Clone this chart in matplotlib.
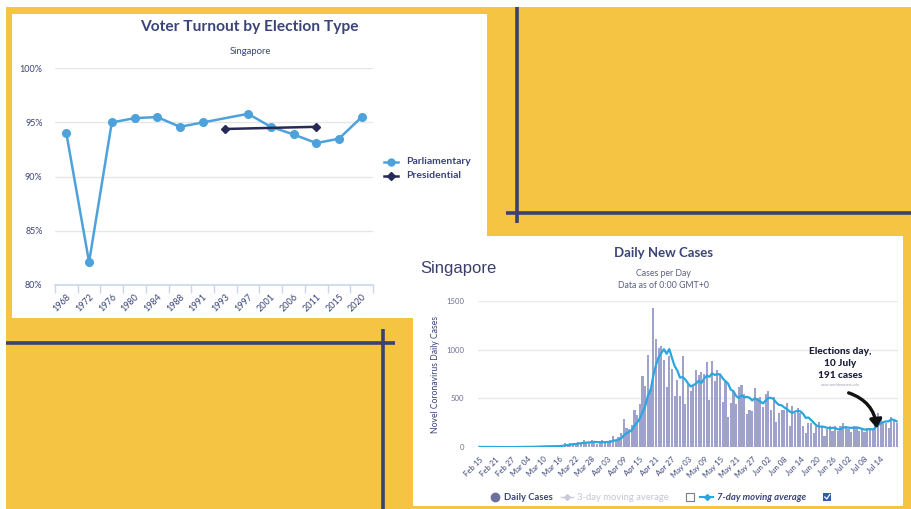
import matplotlib
matplotlib.use('Agg')
import matplotlib.pyplot as plt
import numpy as np
from matplotlib.patches import Rectangle, FancyArrowPatch
from matplotlib.lines import Line2D

W, H = 911, 509
DPI = 100

# ---------------- data: voter turnout ----------------
years = ['1968', '1972', '1976', '1980', '1984', '1988', '1991', '1993',
         '1997', '2001', '2006', '2011', '2015', '2020']
parliamentary = [94.0, 82.1, 95.0, 95.4, 95.5, 94.6, 95.0, None,
                 95.8, 94.6, 93.9, 93.1, 93.5, 95.5]
presidential = [None, None, None, None, None, None, None, 94.4,
                None, None, None, 94.6, None, None]
turnout_ticks = [80, 85, 90, 95, 100]
turnout_labels = ['80%', '85%', '90%', '95%', '100%']

# ---------------- data: daily new cases (Feb 15 - Jul 20) ----------------
daily_cases = [5, 3, 2, 4, 3, 1, 1, 3, 3, 1, 1, 2, 3, 3, 4,
               4, 2, 2, 2, 7, 13, 8, 12, 10, 6, 12, 9, 13, 12, 14, 17, 23, 47, 32, 40, 47, 23, 54, 49, 73, 52, 49, 70, 42, 35, 47,
               74, 49, 65, 75, 120, 66, 106, 142, 287, 198, 191, 233, 386, 334, 447, 728, 623, 942, 596, 1426, 1111, 1016, 1037, 897, 618, 931, 799, 528, 690, 528,
               932, 447, 657, 573, 632, 788, 741, 768, 753, 876, 486, 884, 675, 793, 752, 465, 682, 305, 451, 570, 448, 614, 642, 548, 344, 383, 373, 611, 506, 518, 408,
               544, 572, 386, 517, 261, 347, 383, 386, 451, 218, 422, 347, 407, 347, 214, 151, 247, 248, 142, 218, 262, 218, 120, 191, 213, 169, 213, 167, 213, 246,
               215, 185, 157, 213, 199, 170, 183, 158, 198, 191, 174, 322, 347, 322, 249, 248, 200, 313, 282, 246]
avg7 = [4, 4, 4, 4, 3, 3, 2.7, 2.4, 2.4, 2.3, 1.9, 1.7, 2.0, 2.3, 2.4,
        2.6, 2.7, 2.9, 2.9, 3.4, 4.9, 5.4, 6.6, 7.7, 8.3, 9.7, 10.0, 10.0, 10.6, 10.9, 11.9, 14.3, 19.3, 22.6, 26.4, 31.4, 32.7, 38.0, 41.7, 45.4, 48.3, 49.6, 52.9, 55.6, 52.9, 52.6,
        52.7, 52.3, 54.6, 55.3, 66.4, 70.9, 79.3, 89.0, 123.0, 142.0, 158.6, 174.7, 220.4, 253.0, 296.6, 359.6, 420.3, 527.6, 579.4, 728.0, 839.0, 920.3, 964.4, 1003.6, 957.3, 1005.1, 915.6, 832.3, 785.7, 713.0,
        718.0, 693.6, 654.4, 622.1, 637.0, 651.0, 681.4, 658.0, 701.7, 733.0, 720.6, 756.6, 740.4, 747.9, 745.6, 704.4, 676.7, 650.9, 589.0, 574.0, 524.7, 505.0, 530.3, 511.1, 516.7, 507.0, 478.9, 502.1, 486.7, 469.0, 449.0,
        477.6, 504.6, 506.4, 493.0, 458.0, 433.6, 430.0, 407.4, 390.1, 366.1, 352.6, 364.9, 373.4, 368.3, 343.7, 300.9, 305.0, 280.1, 250.9, 223.9, 211.7, 212.3, 207.9, 199.9, 194.9, 198.7, 198.0, 184.4, 183.7, 201.7,
        205.1, 201.1, 199.4, 199.4, 204.0, 197.9, 188.9, 180.7, 182.6, 187.4, 181.9, 199.4, 224.7, 244.6, 257.6, 264.7, 266.0, 285.9, 280.1, 265.7]
date_tick_labels = ['Feb 15', 'Feb 21', 'Feb 27', 'Mar 04', 'Mar 10', 'Mar 16', 'Mar 22', 'Mar 28',
                    'Apr 03', 'Apr 09', 'Apr 15', 'Apr 21', 'Apr 27', 'May 03', 'May 09', 'May 15',
                    'May 21', 'May 27', 'Jun 02', 'Jun 08', 'Jun 14', 'Jun 20', 'Jun 26', 'Jul 02',
                    'Jul 08', 'Jul 14']
case_ticks = [0, 500, 1000, 1500]

# ---------------- styles ----------------
YELLOW = '#f6c443'
NAVY_LINE = '#3e4070'
NAVY = '#3a4478'
P_BLUE = '#4da2dc'
P_DARK = '#272a57'
BAR = '#9fa2ca'
AVG = '#2aa7de'
FONT = 'Lato'

plt.rcParams['font.family'] = [FONT, 'DejaVu Sans']

fig = plt.figure(figsize=(W / DPI, H / DPI), dpi=DPI)
fig.patch.set_facecolor('white')


def box(x0, y0, x1, y1):
    return [x0 / W, 1 - y1 / H, (x1 - x0) / W, (y1 - y0) / H]


bg = fig.add_axes([0, 0, 1, 1], zorder=0)
bg.set_xlim(0, W)
bg.set_ylim(H, 0)
bg.axis('off')

bg.add_patch(Rectangle((6, 7), W - 6, H - 7, color=YELLOW, lw=0))
bg.add_patch(Rectangle((12, 14), 475, 304, color='white', lw=0))
bg.add_patch(Rectangle((413, 236), 490, 270, color='white', lw=0))
# decorative navy lines
bg.plot([517, 517], [7, 223], color=NAVY_LINE, lw=2.6, solid_capstyle='butt')
bg.plot([506, W], [213, 213], color=NAVY_LINE, lw=2.6, solid_capstyle='butt')
bg.plot([6, 395], [343, 343], color=NAVY_LINE, lw=2.6, solid_capstyle='butt')
bg.plot([383, 383], [329, H], color=NAVY_LINE, lw=2.6, solid_capstyle='butt')

# ---------------- left chart ----------------
ax1 = fig.add_axes(box(55, 68.3, 373, 285), zorder=2)
ax1.patch.set_alpha(0)
xi = np.arange(len(years))
px = [i for i, v in enumerate(parliamentary) if v is not None]
pv = [v for v in parliamentary if v is not None]
ax1.plot(px, pv, color=P_BLUE, lw=1.8, marker='o', ms=5.5, zorder=3, clip_on=False)
prx = [i for i, v in enumerate(presidential) if v is not None]
prv = [v for v in presidential if v is not None]
ax1.plot(prx, prv, color=P_DARK, lw=1.8, marker='D', ms=4, zorder=4, clip_on=False)
ax1.set_xlim(-0.5, len(years) - 0.5)
ax1.set_ylim(80, 100)
ax1.set_yticks(turnout_ticks)
ax1.set_yticklabels(turnout_labels)
ax1.set_xticks(xi)
ax1.set_xticklabels(years, rotation=45, ha='right', rotation_mode='anchor')
ax1.set_xticks(np.arange(-0.5, len(years)), minor=True)
ax1.tick_params(axis='x', which='major', length=0, pad=5, labelsize=6.5, labelcolor=NAVY)
ax1.tick_params(axis='x', which='minor', length=6, color='#ccd6eb', width=1)
ax1.tick_params(axis='y', length=0, pad=9, labelsize=6.5, labelcolor=NAVY)
ax1.grid(axis='y', color='#e6e6e6', lw=1)
ax1.set_axisbelow(True)
for s in ['top', 'right', 'left']:
    ax1.spines[s].set_visible(False)
ax1.spines['bottom'].set_color('#ccd6eb')
ax1.spines['bottom'].set_linewidth(1.2)

# ---------------- right chart ----------------
ax2 = fig.add_axes(box(478, 300.7, 898, 447.3), zorder=2)
ax2.patch.set_alpha(0)
xd = np.arange(len(daily_cases))
ax2.bar(xd, daily_cases, width=0.8, color=BAR, lw=0, zorder=2)
ax2.plot(np.arange(len(avg7)), avg7, color=AVG, lw=1.6, zorder=3)
ax2.set_xlim(-0.5, len(daily_cases) - 0.5)
ax2.set_ylim(0, 1500)
ax2.set_yticks(case_ticks)
ax2.set_yticklabels([str(v) for v in case_ticks])
ax2.set_xticks(np.arange(len(date_tick_labels)) * 6)
ax2.set_xticklabels(date_tick_labels, rotation=45, ha='right', rotation_mode='anchor')
ax2.tick_params(axis='x', length=0, pad=6, labelsize=5.6, labelcolor=NAVY)
ax2.tick_params(axis='y', length=0, pad=10, labelsize=5.6, labelcolor='#6a6f94')
ax2.grid(axis='y', color='#e8e8ee', lw=1)
ax2.set_axisbelow(True)
for s in ['top', 'right', 'left', 'bottom']:
    ax2.spines[s].set_visible(False)

# ---------------- overlay texts ----------------
fg = fig.add_axes([0, 0, 1, 1], zorder=5)
fg.set_xlim(0, W)
fg.set_ylim(H, 0)
fg.axis('off')

fg.text(249, 27, 'Voter Turnout by Election Type', ha='center', va='center',
        fontsize=11.2, color=NAVY, fontweight='bold')
fg.text(250, 51, 'Singapore', ha='center', va='center', fontsize=6.8, color=NAVY)

# left legend
fg.plot([384, 398], [161.5, 161.5], color=P_BLUE, lw=1.8)
fg.plot([391], [161.5], marker='o', color=P_BLUE, ms=5)
fg.plot([384, 398], [175.5, 175.5], color=P_DARK, lw=1.8)
fg.plot([391], [175.5], marker='D', color=P_DARK, ms=4)
fg.text(406, 161.5, 'Parliamentary', ha='left', va='center', fontsize=7.5, color=NAVY, fontweight='bold')
fg.text(406, 175.5, 'Presidential', ha='left', va='center', fontsize=7.5, color=NAVY, fontweight='bold')

# right chart titles
fg.text(420, 268, 'Singapore', ha='left', va='center', fontsize=12, color='#3b3e6d',
        family=['Liberation Sans', 'DejaVu Sans'])
fg.text(663, 253, 'Daily New Cases', ha='center', va='center', fontsize=9.5, color=NAVY, fontweight='bold')
fg.text(663, 274, 'Cases per Day', ha='center', va='center', fontsize=6.3, color='#5a5f80')
fg.text(663, 285, 'Data as of 0:00 GMT+0', ha='center', va='center', fontsize=6.3, color='#5a5f80')
fg.text(435, 374, 'Novel Coronavirus Daily Cases', ha='center', va='center', rotation=90,
        fontsize=6.2, color=NAVY)

# election annotation
fg.text(840, 352, 'Elections day,', ha='center', va='center', fontsize=7.3, fontweight='black', color='#1c1f3a')
fg.text(840, 363.5, '10 July', ha='center', va='center', fontsize=7.3, fontweight='black', color='#1c1f3a')
fg.text(840, 375, '191 cases', ha='center', va='center', fontsize=7.3, fontweight='black', color='#1c1f3a')
fg.text(840, 384.5, 'www.worldometers.info', ha='center', va='center', fontsize=2.6, color='#9a9cb0')
arr = FancyArrowPatch((846, 392), (877, 431), connectionstyle='arc3,rad=-0.35',
                      arrowstyle='-|>,head_length=5,head_width=3.5', color='#111111', lw=2.4)
fg.add_patch(arr)

# bottom legend
fg.plot([495], [497], marker='o', color='#6d6fa2', ms=6)
fg.text(504, 497, 'Daily Cases', ha='left', va='center', fontsize=6.8, fontweight='bold', color=NAVY)
fg.plot([561, 573], [497, 497], color='#c9cbdb', lw=1)
fg.plot([567], [497], marker='D', color='#c9cbdb', ms=3)
fg.text(577, 497, '3-day moving average', ha='left', va='center', fontsize=6.8, color='#c4c6d6')
fg.add_patch(Rectangle((686, 493), 7.5, 7.5, fill=False, ec='#7a7c90', lw=0.8))
fg.plot([700, 713], [497, 497], color=AVG, lw=1.5)
fg.plot([706.5], [497], marker='D', color=AVG, ms=3)
fg.text(717, 497, '7-day moving average', ha='left', va='center', fontsize=6.8, fontweight='bold',
        style='italic', color=NAVY)
fg.add_patch(Rectangle((823, 492.5), 8, 8, color='#2d5bb0', lw=0))
fg.plot([824.8, 826.8, 829.8], [497, 499, 494.5], color='white', lw=0.9)

fig.savefig('out.png', dpi=DPI)
